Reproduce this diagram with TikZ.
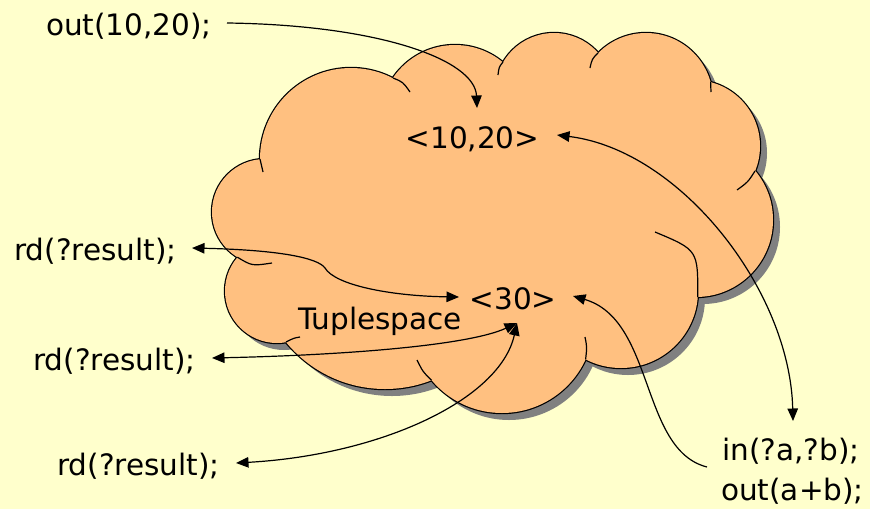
\documentclass[tikz,border=0pt]{standalone}
\usepackage{fontspec}
\setmainfont{DejaVu Sans}
\usetikzlibrary{arrows.meta}
\definecolor{bgyellow}{HTML}{FFFFCC}
\definecolor{cloudfill}{HTML}{FFC080}
\definecolor{shadowgray}{HTML}{808080}
\begin{document}
\begin{tikzpicture}[x=1pt,y=-1pt,
  lbl/.style={anchor=base, inner sep=0pt, font=\fontsize{29.5}{35}\selectfont},
  conn/.style={line width=1.2pt, draw=black},
  curl/.style={line width=1.2pt, draw=black},
  >={Triangle[length=12.5pt,width=10.5pt]}]
\useasboundingbox (0,0) rectangle (870,509);
\fill[bgyellow] (0,0) rectangle (870,509);
\def\lobes{351/159/91,455/120/75,554/92/59,646/100/67,694/146/66,696/220/77,621/291/77,502/321/92,385/261/128,277/291/52,265/212/53}
% shadow
\begin{scope}[shift={(7,7)}]
  \fill[shadowgray] (351,159) -- (455,120) -- (554,92) -- (646,100) -- (694,146) -- (696,220) -- (621,291) -- (502,321) -- (385,261) -- (277,291) -- (265,212) -- cycle;
  \foreach \cx/\cy/\r in \lobes {\fill[shadowgray] (\cx,\cy) circle[radius=\r pt];}
\end{scope}
% outline
\foreach \cx/\cy/\r in \lobes {\draw[line width=2.4pt] (\cx,\cy) circle[radius=\r pt];}
% fill
\foreach \cx/\cy/\r in \lobes {\fill[cloudfill] (\cx,\cy) circle[radius=\r pt];}
\fill[cloudfill] (351,159) -- (455,120) -- (554,92) -- (646,100) -- (694,146) -- (696,220) -- (621,291) -- (502,321) -- (385,261) -- (277,291) -- (265,212) -- cycle;
% interior curls
\draw[curl] (260,159) -- (263,172);
\draw[curl] (393,78) .. controls (403,82) .. (410,92);
\draw[curl] (503,62) .. controls (499,67) .. (498,75);
\draw[curl] (598,53) .. controls (592,59) .. (590,68);
\draw[curl] (710.6,82) -- (711,92);
\draw[curl] (755,171) .. controls (748,182) .. (737,190);
\draw[curl] (697.7,297) .. controls (698,250) .. (655,232);
\draw[curl] (585.6,359.5) .. controls (587,347) .. (585,337);
\draw[curl] (431.6,380.3) .. controls (423,372) .. (417,360);
\draw[curl] (286,342) .. controls (294,338) .. (300,337);
\draw[curl] (237.4,257.2) .. controls (252,266) .. (272,263);
% texts
\node[lbl] (out1) at (129,35) {out(10,20);};
\node[lbl] (t1020) at (472.5,148) {<10,20>};
\node[lbl] (rd1) at (95.5,260) {rd(?result);};
\node[lbl] (rd2) at (114.5,370) {rd(?result);};
\node[lbl] (rd3) at (138.5,475) {rd(?result);};
\node[lbl] (tup) at (380,329) {Tuplespace};
\node[lbl] (t30) at (513,309) {<30>};
\node[lbl] (inab) at (791,460) {in(?a,?b);};
\node[lbl] (outab) at (792.5,500) {out(a+b);};
% connector end points
\coordinate (out1r) at (227,23);
\coordinate (t1020top) at (477,108);
\coordinate (t1020right) at (557,135);
\coordinate (inabtop) at (793,421);
\coordinate (rd1r) at (192,248);
\coordinate (kink) at (325,268);
\coordinate (t30left) at (459,297);
\coordinate (rd2r) at (212,358);
\coordinate (rd3r) at (236,463);
\coordinate (t30bot) at (517,323);
\coordinate (inabl) at (707,467);
\coordinate (t30right) at (573,296);
% connectors
\draw[conn,->] (out1r) .. controls (380,25) and (475,60) .. (t1020top);
\draw[conn,<->] (t1020right) .. controls (680,150) and (790,290) .. (inabtop);
\draw[conn,<->] (rd1r) .. controls (280,250) and (318,258) .. (kink) .. controls (335,285) and (390,296) .. (t30left);
\draw[conn,<->] (rd2r) .. controls (350,355) and (470,345) .. (t30bot);
\draw[conn,<->] (rd3r) .. controls (380,455) and (500,400) .. (t30bot);
\draw[conn,->] (inabl) .. controls (640,450) and (655,320) .. (t30right);
\end{tikzpicture}
\end{document}
